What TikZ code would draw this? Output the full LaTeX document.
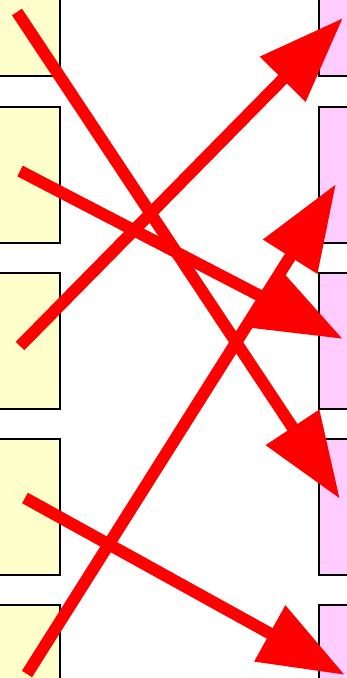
\documentclass[tikz,border=0pt]{standalone}
\usetikzlibrary{arrows.meta}
\definecolor{boxyellow}{HTML}{FFFFCC}
\definecolor{boxpink}{HTML}{FFCCFF}
\tikzset{
  lbox/.style={draw=black, line width=1.8pt, fill=boxyellow, minimum width=100pt, minimum height=136pt, inner sep=0pt, anchor=north east},
  rbox/.style={draw=black, line width=1.8pt, fill=boxpink, minimum width=100pt, minimum height=136pt, inner sep=0pt, anchor=north west},
  bigarrow/.style={draw=red, line width=12pt, line cap=butt, -{Triangle[length=86pt,width=61pt]}}
}
\begin{document}
\begin{tikzpicture}[x=1pt,y=1pt]
\useasboundingbox (0,0) rectangle (347,-678);
\begin{scope}
\clip (0,0) rectangle (347,-678);
\node[lbox] (L1) at (61,61) {};
\node[lbox] (L2) at (61,-106) {};
\node[lbox] (L3) at (61,-272) {};
\node[lbox] (L4) at (61,-438) {};
\node[lbox] (L5) at (61,-604) {};
\node[rbox] (R1) at (318,61) {};
\node[rbox] (R2) at (318,-106) {};
\node[rbox] (R3) at (318,-272) {};
\node[rbox] (R4) at (318,-438) {};
\node[rbox] (R5) at (318,-604) {};
\end{scope}
\coordinate (s1) at (17,-12);
\coordinate (t1) at (340,-499);
\coordinate (s2) at (20,-346);
\coordinate (t2) at (343,-18);
\coordinate (s3) at (20,-171);
\coordinate (t3) at (343,-339);
\coordinate (s4) at (27,-674);
\coordinate (t4) at (336,-184);
\coordinate (s5) at (25,-498);
\coordinate (t5) at (345,-675);
\draw[bigarrow] (s1) -- (t1);
\draw[bigarrow] (s2) -- (t2);
\draw[bigarrow] (s3) -- (t3);
\draw[bigarrow] (s4) -- (t4);
\draw[bigarrow] (s5) -- (t5);
\end{tikzpicture}
\end{document}
